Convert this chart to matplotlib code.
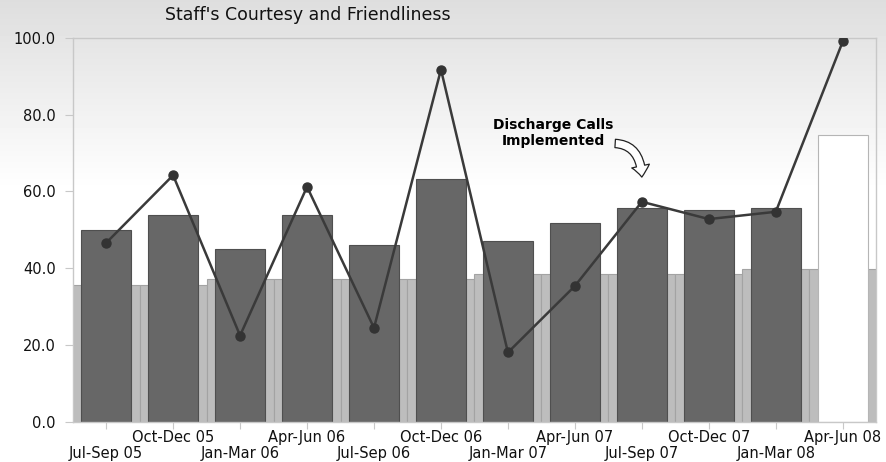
import numpy as np
import matplotlib
matplotlib.use("Agg")
import matplotlib.pyplot as plt
from matplotlib.patches import FancyArrowPatch

# data
quarters = ["Jul-Sep 05", "Oct-Dec 05", "Jan-Mar 06", "Apr-Jun 06",
            "Jul-Sep 06", "Oct-Dec 06", "Jan-Mar 07", "Apr-Jun 07",
            "Jul-Sep 07", "Oct-Dec 07", "Jan-Mar 08", "Apr-Jun 08"]
score = [50.0, 53.8, 45.1, 53.8, 46.0, 63.1, 47.0, 51.8, 55.8, 55.1, 55.8, 74.8]
benchmark = [35.6, 35.6, 37.3, 37.3, 37.3, 37.3, 38.6, 38.6, 38.6, 38.6, 39.7, 39.7]
monthly = [46.6, 64.2, 22.5, 61.2, 24.5, 91.7, 18.1, 35.4, 57.3, 52.8, 54.7, 99.0]
yticks = [0, 20, 40, 60, 80, 100]

plt.rcParams["font.family"] = ["DejaVu Sans"]

fig = plt.figure(figsize=(8.86, 4.62), dpi=100)

# grey-to-white background gradient
bg = fig.add_axes([0, 0, 1, 1], zorder=-10)
grad = np.ones((462, 1))
rows = np.arange(462)
grad[:, 0] = np.clip(0.87 + 0.13 * rows / 190.0, 0, 1)
bg.imshow(grad, aspect="auto", cmap="gray", vmin=0, vmax=1, extent=[0, 1, 0, 1], origin="upper")
bg.axis("off")

ax = fig.add_axes([0.082, 0.0865, 0.907, 0.832])
ax.set_facecolor("none")

x = np.arange(len(quarters))

ax.bar(x, benchmark, width=1.0, color="#bdbdbd", edgecolor="#a3a3a3", linewidth=0.8, zorder=1)
colors = ["#676767"] * (len(score) - 1) + ["white"]
edges = ["#4f4f4f"] * (len(score) - 1) + ["#b5b5b5"]
ax.bar(x, score, width=0.75, color=colors, edgecolor=edges, linewidth=0.8, zorder=2)

ax.plot(x, monthly, color="#3a3a3a", lw=1.8, marker="o", ms=6.5,
        mfc="#333333", mec="#333333", zorder=4)

ax.set_xlim(-0.5, len(quarters) - 0.5)
ax.set_ylim(0, 100)
ax.set_yticks(yticks)
ax.set_yticklabels([f"{v:.1f}" for v in yticks], fontsize=10.5, color="#111111")

# staggered category labels: odd ones on the upper row, even ones below
ax.set_xticks(x[1::2])
ax.set_xticklabels(quarters[1::2], fontsize=10.5, color="#111111")
ax.set_xticks(x[0::2], minor=True)
ax.set_xticklabels(quarters[0::2], minor=True, fontsize=10.5, color="#111111")

ax.tick_params(axis="y", length=6, color="#c8c8c8", width=0.8, pad=6)
ax.tick_params(axis="x", which="major", length=5, color="#c8c8c8", width=0.8, pad=1)
ax.tick_params(axis="x", which="minor", length=5, color="#c8c8c8", width=0.8, pad=12)
for s in ax.spines.values():
    s.set_color("#c8c8c8")
    s.set_linewidth(1.0)

fig.text(0.186, 0.967, "Staff's Courtesy and Friendliness", fontsize=12.5,
         ha="left", va="center", color="#111111")

ax.text(6.68, 75.2, "Discharge Calls\nImplemented", fontsize=10, fontweight="bold",
        ha="center", va="center", linespacing=1.15, zorder=5)

arrow = FancyArrowPatch((7.56, 72.5), (8.0, 63.0),
                        connectionstyle="angle3,angleA=0,angleB=90",
                        arrowstyle="simple,head_length=8,head_width=13,tail_width=6",
                        facecolor="white", edgecolor="#222222", linewidth=0.9, zorder=5)
ax.add_patch(arrow)

fig.savefig("out.png", dpi=100)
